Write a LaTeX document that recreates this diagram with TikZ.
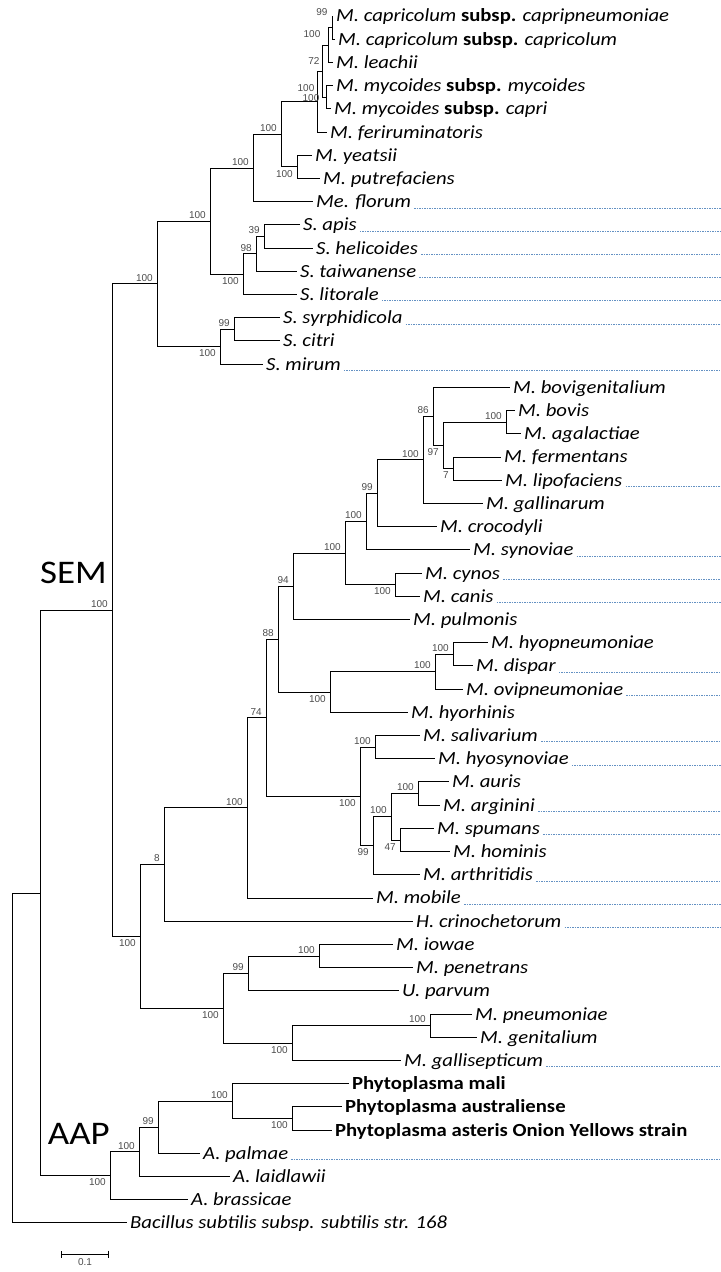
\documentclass[tikz,border=0pt]{standalone}
\usepackage{fontspec}
\setmainfont{Carlito}[FakeStretch=1.12]
\newfontfamily\bsfont{Liberation Sans}
\usetikzlibrary{arrows.meta}

\newcommand\subspb{\textup{\textbf{subsp.}}}

\tikzset{
  branch/.style={line width=0.9pt},
  taxon/.style={anchor=west, inner xsep=3pt, inner ysep=0pt, text height=12pt, text depth=0pt,
    font=\fontsize{18.5}{20}\selectfont\itshape},
  phyto/.style={taxon, font=\fontsize{18.5}{20}\selectfont\bfseries},
  bs/.style={inner sep=1pt, text=black!70, font=\bsfont\fontsize{10}{10}\selectfont},
  bsup/.style={bs, anchor=south east, xshift=-3pt, yshift=1.5pt},
  bsdown/.style={bs, anchor=north east, xshift=-3pt, yshift=-2pt},
  hint/.style={line width=0.7pt, dash pattern=on 1.5pt off 1pt, draw={rgb,255:red,100;green,145;blue,195}},
  clade/.style={inner sep=0pt, font=\fontsize{33}{33}\selectfont}
}

\begin{document}
\begin{tikzpicture}[x=1pt,y=-23.21pt]
\useasboundingbox (0,-0.6894) rectangle (721,54.1151);
\coordinate (edge) at (721,0);

\node[taxon] (caprip) at (333,0) {M. capricolum \subspb{} capripneumoniae};
\node[taxon] (capric) at (335,1) {M. capricolum \subspb{} capricolum};
\node[taxon] (leachii) at (333,2) {M. leachii};
\node[taxon] (mycmyc) at (333,3) {M. mycoides \subspb{} mycoides};
\node[taxon] (myccapri) at (331,4) {M. mycoides \subspb{} capri};
\node[taxon] (ferirum) at (327,5) {M. feriruminatoris};
\node[taxon] (yeatsii) at (312,6) {M. yeatsii};
\node[taxon] (putref) at (320,7) {M. putrefaciens};
\node[taxon] (florum) at (313,8) {Me. florum};
\node[taxon] (apis) at (300,9) {S. apis};
\node[taxon] (helic) at (313,10) {S. helicoides};
\node[taxon] (taiwan) at (297,11) {S. taiwanense};
\node[taxon] (litor) at (297,12) {S. litorale};
\node[taxon] (syrph) at (280,13) {S. syrphidicola};
\node[taxon] (citri) at (280,14) {S. citri};
\node[taxon] (mirum) at (263,15) {S. mirum};
\node[taxon] (bovigen) at (510,16) {M. bovigenitalium};
\node[taxon] (bovis) at (515,17) {M. bovis};
\node[taxon] (agalac) at (521,18) {M. agalactiae};
\node[taxon] (ferment) at (501,19) {M. fermentans};
\node[taxon] (lipof) at (502,20) {M. lipofaciens};
\node[taxon] (gallin) at (483,21) {M. gallinarum};
\node[taxon] (crocod) at (437,22) {M. crocodyli};
\node[taxon] (synov) at (470,23) {M. synoviae};
\node[taxon] (cynos) at (422,24) {M. cynos};
\node[taxon] (canis) at (420,25) {M. canis};
\node[taxon] (pulmon) at (410,26) {M. pulmonis};
\node[taxon] (hyopn) at (488,27) {M. hyopneumoniae};
\node[taxon] (dispar) at (473,28) {M. dispar};
\node[taxon] (ovipn) at (463,29) {M. ovipneumoniae};
\node[taxon] (hyorh) at (408,30) {M. hyorhinis};
\node[taxon] (saliv) at (420,31) {M. salivarium};
\node[taxon] (hyosyn) at (435,32) {M. hyosynoviae};
\node[taxon] (auris) at (449,33) {M. auris};
\node[taxon] (argin) at (440,34) {M. arginini};
\node[taxon] (spum) at (434,35) {M. spumans};
\node[taxon] (homin) at (450,36) {M. hominis};
\node[taxon] (arthr) at (420,37) {M. arthritidis};
\node[taxon] (mobile) at (373,38) {M. mobile};
\node[taxon] (crino) at (413,39) {H. crinochetorum};
\node[taxon] (iowae) at (393,40) {M. iowae};
\node[taxon] (penetr) at (413,41) {M. penetrans};
\node[taxon] (parvum) at (399,42) {U. parvum};
\node[taxon] (pneum) at (472,43) {M. pneumoniae};
\node[taxon] (genit) at (477,44) {M. genitalium};
\node[taxon] (gallisep) at (401,45) {M. gallisepticum};
\node[phyto] (mali) at (349,46) {Phytoplasma mali};
\node[phyto] (austral) at (342,47) {Phytoplasma australiense};
\node[phyto] (asteris) at (332,48) {Phytoplasma asteris Onion Yellows strain};
\node[taxon] (palmae) at (200,49) {A. palmae};
\node[taxon] (laidl) at (230,50) {A. laidlawii};
\node[taxon] (brassic) at (188,51) {A. brassicae};
\node[taxon] (bacill) at (127,52) {Bacillus subtilis subsp. subtilis str. 168};

% inner nodes
\coordinate (cap1) at (332,0.5);
\coordinate (cap2) at (328,1.25);
\coordinate (myc) at (326,3.5);
\coordinate (cap3) at (322,2.375);
\coordinate (cap4) at (317,3.6875);
\coordinate (yeat) at (297,6.5);
\coordinate (myc2) at (281,5.094);
\coordinate (ento) at (253,6.547);
\coordinate (spi1) at (264,9.5);
\coordinate (spi2) at (256,10.25);
\coordinate (spi3) at (243,11.125);
\coordinate (spi4) at (210,8.836);
\coordinate (cit1) at (234,13.5);
\coordinate (cit2) at (220,14.25);
\coordinate (spi5) at (157,11.543);
\coordinate (bov1) at (506,17.5);
\coordinate (fer1) at (453,19.5);
\coordinate (bov2) at (443,18.5);
\coordinate (bov3) at (433,17.25);
\coordinate (bov4) at (423,19.125);
\coordinate (bov5) at (377,20.5625);
\coordinate (bov6) at (366,21.781);
\coordinate (can1) at (395,24.5);
\coordinate (bov7) at (345,23.141);
\coordinate (pul1) at (293,24.570);
\coordinate (hyo1) at (453,27.5);
\coordinate (hyo2) at (435,28.25);
\coordinate (hyo3) at (330,29.125);
\coordinate (hom1) at (278,26.848);
\coordinate (sal1) at (375,31.5);
\coordinate (aur1) at (418,33.5);
\coordinate (spu1) at (400,35.5);
\coordinate (aur2) at (391,34.5);
\coordinate (art1) at (373,35.75);
\coordinate (sal2) at (360,33.625);
\coordinate (hom2) at (266,30.236);
\coordinate (mob1) at (247,34.118);
\coordinate (cri1) at (164,36.559);
\coordinate (iow1) at (319,40.5);
\coordinate (iow2) at (248,41.25);
\coordinate (pne1) at (430,43.5);
\coordinate (pne2) at (292,44.25);
\coordinate (pne3) at (223,42.75);
\coordinate (myc3) at (140,39.654);
\coordinate (sem1) at (112,25.599);
\coordinate (phy1) at (292,47.5);
\coordinate (phy2) at (232,46.75);
\coordinate (acho1) at (158,47.875);
\coordinate (acho2) at (139,48.938);
\coordinate (aap1) at (110,49.969);
\coordinate (molli) at (40,37.784);
\coordinate (root) at (12,44.892);

\draw[branch] (root) |- (molli) (root) |- (bacill.west);
\draw[branch] (molli) |- (sem1) (molli) |- (aap1);
\draw[branch] (sem1) |- (spi5) (sem1) |- (myc3);
\draw[branch] (spi5) |- (spi4) (spi5) |- (cit2);
\draw[branch] (spi4) |- (ento) (spi4) |- (spi3);
\draw[branch] (ento) |- (myc2) (ento) |- (florum.west);
\draw[branch] (myc2) |- (cap4) (myc2) |- (yeat);
\draw[branch] (cap4) |- (cap3) (cap4) |- (ferirum.west);
\draw[branch] (cap3) |- (cap2) (cap3) |- (myc);
\draw[branch] (cap2) |- (cap1) (cap2) |- (leachii.west);
\draw[branch] (cap1) |- (caprip.west) (cap1) |- (capric.west);
\draw[branch] (myc) |- (mycmyc.west) (myc) |- (myccapri.west);
\draw[branch] (yeat) |- (yeatsii.west) (yeat) |- (putref.west);
\draw[branch] (spi3) |- (spi2) (spi3) |- (litor.west);
\draw[branch] (spi2) |- (spi1) (spi2) |- (taiwan.west);
\draw[branch] (spi1) |- (apis.west) (spi1) |- (helic.west);
\draw[branch] (cit2) |- (cit1) (cit2) |- (mirum.west);
\draw[branch] (cit1) |- (syrph.west) (cit1) |- (citri.west);
\draw[branch] (myc3) |- (cri1) (myc3) |- (pne3);
\draw[branch] (cri1) |- (mob1) (cri1) |- (crino.west);
\draw[branch] (mob1) |- (hom2) (mob1) |- (mobile.west);
\draw[branch] (hom2) |- (hom1) (hom2) |- (sal2);
\draw[branch] (hom1) |- (pul1) (hom1) |- (hyo3);
\draw[branch] (pul1) |- (bov7) (pul1) |- (pulmon.west);
\draw[branch] (bov7) |- (bov6) (bov7) |- (can1);
\draw[branch] (bov6) |- (bov5) (bov6) |- (synov.west);
\draw[branch] (bov5) |- (bov4) (bov5) |- (crocod.west);
\draw[branch] (bov4) |- (bov3) (bov4) |- (gallin.west);
\draw[branch] (bov3) |- (bovigen.west) (bov3) |- (bov2);
\draw[branch] (bov2) |- (bov1) (bov2) |- (fer1);
\draw[branch] (bov1) |- (bovis.west) (bov1) |- (agalac.west);
\draw[branch] (fer1) |- (ferment.west) (fer1) |- (lipof.west);
\draw[branch] (can1) |- (cynos.west) (can1) |- (canis.west);
\draw[branch] (hyo3) |- (hyo2) (hyo3) |- (hyorh.west);
\draw[branch] (hyo2) |- (hyo1) (hyo2) |- (ovipn.west);
\draw[branch] (hyo1) |- (hyopn.west) (hyo1) |- (dispar.west);
\draw[branch] (sal2) |- (sal1) (sal2) |- (art1);
\draw[branch] (sal1) |- (saliv.west) (sal1) |- (hyosyn.west);
\draw[branch] (art1) |- (aur2) (art1) |- (arthr.west);
\draw[branch] (aur2) |- (aur1) (aur2) |- (spu1);
\draw[branch] (aur1) |- (auris.west) (aur1) |- (argin.west);
\draw[branch] (spu1) |- (spum.west) (spu1) |- (homin.west);
\draw[branch] (pne3) |- (iow2) (pne3) |- (pne2);
\draw[branch] (iow2) |- (iow1) (iow2) |- (parvum.west);
\draw[branch] (iow1) |- (iowae.west) (iow1) |- (penetr.west);
\draw[branch] (pne2) |- (pne1) (pne2) |- (gallisep.west);
\draw[branch] (pne1) |- (pneum.west) (pne1) |- (genit.west);
\draw[branch] (aap1) |- (acho2) (aap1) |- (brassic.west);
\draw[branch] (acho2) |- (acho1) (acho2) |- (laidl.west);
\draw[branch] (acho1) |- (phy2) (acho1) |- (palmae.west);
\draw[branch] (phy2) |- (mali.west) (phy2) |- (phy1);
\draw[branch] (phy1) |- (austral.west) (phy1) |- (asteris.west);

% bootstrap values
\node[bs] (bs-cap1) at (322,-0.17) {99};
\node[bs] (bs-cap2) at (312,0.776) {100};
\node[bs] (bs-cap3) at (314,1.94) {72};
\node[bs] (bs-cap4) at (306,3.10) {100};
\node[bs] (bs-myc) at (311,3.53) {100};
\node[bsup] (bs-myc2) at (myc2) {100};
\node[bsdown] (bs-yeat) at (yeat) {100};
\node[bsup] (bs-ento) at (ento) {100};
\node[bsup] (bs-spi1) at (spi1) {39};
\node[bsup] (bs-spi2) at (spi2) {98};
\node[bsdown] (bs-spi3) at (spi3) {100};
\node[bsup] (bs-spi4) at (spi4) {100};
\node[bsup] (bs-cit1) at (cit1) {99};
\node[bsdown] (bs-cit2) at (cit2) {100};
\node[bsup] (bs-spi5) at (spi5) {100};
\node[bsup] (bs-sem1) at (sem1) {100};
\node[bsup] (bs-bov1) at (bov1) {100};
\node[bsdown] (bs-fer1) at (fer1) {7};
\node[bsdown] (bs-bov2) at (bov2) {97};
\node[bsup] (bs-bov3) at (bov3) {86};
\node[bsup] (bs-bov4) at (bov4) {100};
\node[bsup] (bs-bov5) at (bov5) {99};
\node[bsup] (bs-bov6) at (bov6) {100};
\node[bsdown] (bs-can1) at (can1) {100};
\node[bsup] (bs-bov7) at (bov7) {100};
\node[bsup] (bs-pul1) at (pul1) {94};
\node[bsup] (bs-hyo1) at (hyo1) {100};
\node[bsup] (bs-hyo2) at (hyo2) {100};
\node[bsdown] (bs-hyo3) at (hyo3) {100};
\node[bsup] (bs-hom1) at (hom1) {88};
\node[bsup] (bs-sal1) at (sal1) {100};
\node[bsup] (bs-aur1) at (aur1) {100};
\node[bsdown] (bs-spu1) at (spu1) {47};
\node[bsup] (bs-aur2) at (aur2) {100};
\node[bsdown] (bs-art1) at (art1) {99};
\node[bsdown] (bs-sal2) at (sal2) {100};
\node[bsup] (bs-hom2) at (hom2) {74};
\node[bsup] (bs-mob1) at (mob1) {100};
\node[bsup] (bs-cri1) at (cri1) {8};
\node[bsup] (bs-iow1) at (iow1) {100};
\node[bsup] (bs-iow2) at (iow2) {99};
\node[bsup] (bs-pne1) at (pne1) {100};
\node[bsdown] (bs-pne2) at (pne2) {100};
\node[bsdown] (bs-pne3) at (pne3) {100};
\node[bsdown] (bs-myc3) at (myc3) {100};
\node[bsdown] (bs-phy1) at (phy1) {100};
\node[bsup] (bs-phy2) at (phy2) {100};
\node[bsup] (bs-acho1) at (acho1) {99};
\node[bsup] (bs-acho2) at (acho2) {100};
\node[bsdown] (bs-aap1) at (aap1) {100};

% groups
\node[clade, anchor=east] (sem) at (107,24.0) {SEM};
\node[clade, anchor=east] (aap) at (110,48.17) {AAP};

% dotted guides
\foreach \t in {florum,apis,helic,taiwan,litor,syrph,mirum,lipof,synov,cynos,canis,dispar,ovipn,
  saliv,hyosyn,argin,spum,arthr,mobile,crino,gallisep,palmae}
  \draw[hint] (\t.south east) -- (\t.south east -| edge);

% scale bar
\coordinate (barl) at (61,53.34);
\coordinate (barr) at (109,53.34);
\draw[line width=0.9pt, {Bar[width=7pt]}-{Bar[width=7pt]}] (barl) -- (barr);
\node[bs, anchor=north] (barlab) at (85,53.5) {0.1};
\end{tikzpicture}
\end{document}
